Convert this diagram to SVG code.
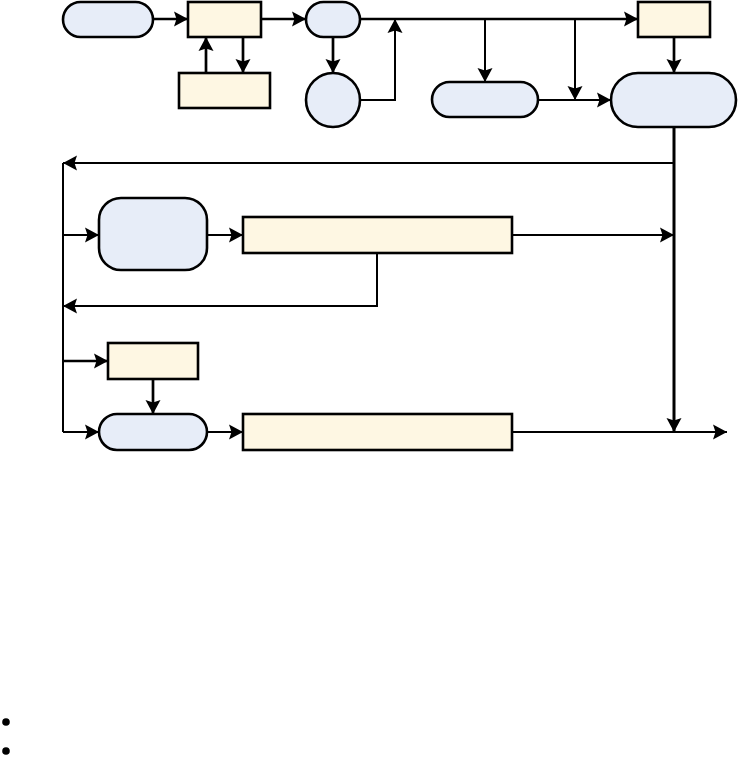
<svg xmlns="http://www.w3.org/2000/svg" width="738" height="763" viewBox="0 0 738 763">
<defs>
<marker id="ah" markerWidth="16" markerHeight="16" viewBox="0 0 16 16" refX="14" refY="8" orient="auto" markerUnits="userSpaceOnUse">
<path d="M0,0.5 L14,8 L0,15.5 L2.5,8 Z" fill="#000"/>
</marker>
</defs>
<style>
.b{fill:#E7EDF8;stroke:#000;stroke-width:2.6}
.y{fill:#FEF7E3;stroke:#000;stroke-width:2.6}
.c{fill:none;stroke:#000;stroke-width:2.7}
.t{stroke-width:2}
.a{marker-end:url(#ah)}
</style>
<rect width="738" height="763" fill="#fff"/>
<g id="connectors">
<path class="c a" d="M153,19 H188"/>
<path class="c a" d="M243,37 V73"/>
<path class="c a" d="M206,73 V37"/>
<path class="c a" d="M261,19 H306"/>
<path class="c a" d="M333,37 V73"/>
<path class="c a t" d="M360,100 H395 V19"/>
<path class="c a" d="M360,19 H638"/>
<path class="c a t" d="M485,19 V82"/>
<path class="c a t" d="M575,19 V100"/>
<path class="c a t" d="M538,100 H611"/>
<path class="c a" d="M674,37 V73"/>
<path class="c a" d="M674,127 V432" style="stroke-width:3"/>
<path class="c a t" d="M674,163 H63"/>
<path class="c t" d="M63,163 V432"/>
<path class="c a t" d="M63,235 H99"/>
<path class="c a t" d="M207,235 H243"/>
<path class="c a t" d="M512,235 H674"/>
<path class="c a t" d="M377,253 V306 H63"/>
<path class="c a" d="M63,361 H108"/>
<path class="c a" d="M153,379 V414"/>
<path class="c a t" d="M63,432 H99"/>
<path class="c a t" d="M207,432 H243"/>
<path class="c a t" d="M512,432 H727"/>
</g>
<g id="nA"><rect class="b" x="63" y="2" width="90" height="35" rx="17.5"/></g>
<g id="nB"><rect class="y" x="188" y="2" width="73" height="35"/></g>
<g id="nC"><rect class="y" x="179" y="73" width="91" height="35"/></g>
<g id="nD"><rect class="b" x="306" y="2" width="54" height="35" rx="17.5"/></g>
<g id="nE"><circle class="b" cx="333" cy="100" r="27"/></g>
<g id="nF"><rect class="y" x="638" y="2" width="72" height="35"/></g>
<g id="nG"><rect class="b" x="432" y="82" width="106" height="35" rx="17.5"/></g>
<g id="nH"><rect class="b" x="611" y="73" width="125" height="54" rx="27"/></g>
<g id="nI"><rect class="b" x="99" y="198" width="108" height="72" rx="22"/></g>
<g id="nJ"><rect class="y" x="243" y="217" width="269" height="36"/></g>
<g id="nK"><rect class="y" x="108" y="343" width="90" height="36"/></g>
<g id="nL"><rect class="b" x="99" y="414" width="108" height="36" rx="18"/></g>
<g id="nM"><rect class="y" x="243" y="414" width="269" height="36"/></g>
<g id="bullets">
<circle cx="6" cy="722" r="3.8" fill="#000"/>
<circle cx="6" cy="751" r="3.8" fill="#000"/>
</g>
</svg>
